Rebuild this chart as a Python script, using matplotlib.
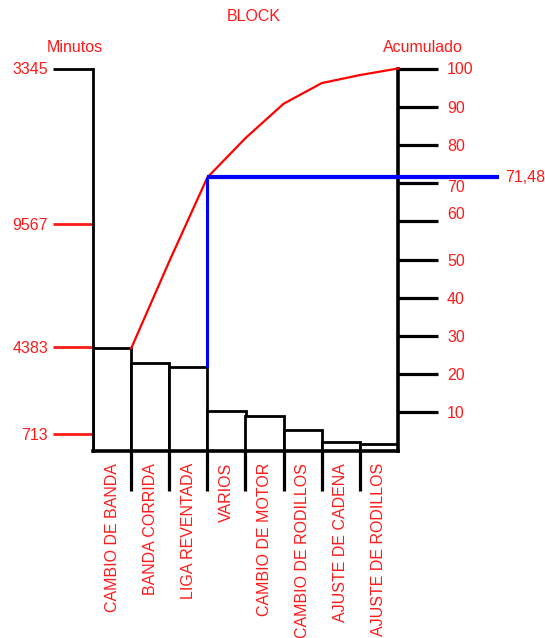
import numpy as np
import matplotlib
matplotlib.use("Agg")
import matplotlib.pyplot as plt
from matplotlib.ticker import FixedLocator
import matplotlib.transforms as mtransforms

# ---- data ----
categories = ["CAMBIO DE BANDA", "BANDA CORRIDA", "LIGA REVENTADA", "VARIOS",
              "CAMBIO DE MOTOR", "CAMBIO DE RODILLOS", "AJUSTE DE CADENA",
              "AJUSTE DE RODILLOS"]
minutes = [4299, 3671, 3539, 1658, 1449, 869, 338, 277]
left_tick_values = [713, 4383, 9567]
left_tick_labels = ["713", "4383", "9567", "3345"]
right_tick_values = [10, 20, 30, 40, 50, 60, 70, 80, 90, 100]
pareto_index = 2  # last category of the 'vital few'

plt.rcParams['font.family'] = ['Liberation Sans', 'DejaVu Sans']
RED = '#ff1a1a'
FS = 11.5

total = float(np.sum(minutes))
cum_pct = np.cumsum(minutes) / total * 100.0
x = np.arange(len(categories))

fig = plt.figure(figsize=(5.45, 6.38), dpi=100)
ax = fig.add_axes([93/545, 1-450.5/638, 305/545, 382/638])

ax.bar(x, minutes, width=1.0, color='white', edgecolor='black', linewidth=2.0, zorder=2)
ax.set_xlim(-0.5, len(categories) - 0.5)
ax.set_ylim(0, total)

for s in ['top', 'right']:
    ax.spines[s].set_visible(False)
ax.spines['left'].set_linewidth(2.0)
ax.spines['bottom'].set_linewidth(2.6)
ax.spines['left'].set_zorder(3)
ax.spines['bottom'].set_zorder(3)

# bottom ticks
ax.set_xticks(x)
ax.set_xticklabels(categories, rotation=90, va='top', ha='center')
ax.tick_params(axis='x', which='major', length=0, pad=9, labelsize=FS, labelcolor=RED)
ax.xaxis.set_minor_locator(FixedLocator(x[:-1] + 0.5))
ax.tick_params(axis='x', which='minor', length=28.5, width=2.3, color='black')

# right axis
ax2 = ax.twinx()
ax2.set_ylim(0, 100)
for s in ['top', 'left', 'bottom']:
    ax2.spines[s].set_visible(False)
ax2.spines['right'].set_linewidth(2.6)
ax2.set_yticks(right_tick_values)
ax2.set_yticklabels([str(v) for v in right_tick_values])
ax2.tick_params(axis='y', length=28.5, width=2.3, pad=6.8, labelsize=FS,
                labelcolor=RED, color='black')
for t, v in zip(ax2.yaxis.get_major_ticks(), right_tick_values):
    dy = 0
    if v == 70:
        dy = -3
    elif v == 60:
        dy = 8
    if dy:
        off = mtransforms.ScaledTranslation(0, dy/100, fig.dpi_scale_trans)
        t.label2.set_transform(t.label2.get_transform() + off)

# left ticks (after twinx so settings persist)
ax.set_yticks(left_tick_values + [total])
ax.set_yticklabels(left_tick_labels)
ax.tick_params(axis='y', which='major', length=28.8, width=2.0, pad=3.6,
               labelsize=FS, labelcolor=RED, color=RED)

# cumulative curve
ax2.plot(x + 0.5, cum_pct, color='red', linewidth=1.6, zorder=4, clip_on=False)

# pareto marker lines
px = pareto_index + 0.5
pv = cum_pct[pareto_index]
bar_top_pct = minutes[pareto_index] / total * 100
ax2.plot([px, px], [bar_top_pct, pv], color='blue', linewidth=2.2, zorder=5,
         clip_on=False, solid_capstyle='butt')
ax2.plot([px, 10.15], [pv, pv], color='blue', linewidth=3.0, zorder=5,
         clip_on=False, solid_capstyle='butt')
ax2.text(10.3, pv, f"{pv:.2f}".replace('.', ','), color=RED, fontsize=FS,
         ha='left', va='center', clip_on=False)

# titles
fig.text(254/545, 1-16.7/638, "BLOCK", color=RED, fontsize=FS, ha='center', va='center')
fig.text(74.4/545, 1-47/638, "Minutos", color=RED, fontsize=FS, ha='center', va='center')
fig.text(423/545, 1-47/638, "Acumulado", color=RED, fontsize=FS, ha='center', va='center')

fig.canvas.draw()
ax.yaxis.get_major_ticks()[-1].tick1line.set_color('black')
ax.yaxis.get_major_ticks()[-1].tick1line.set_markeredgecolor('black')

fig.savefig("out.png", dpi=100)
